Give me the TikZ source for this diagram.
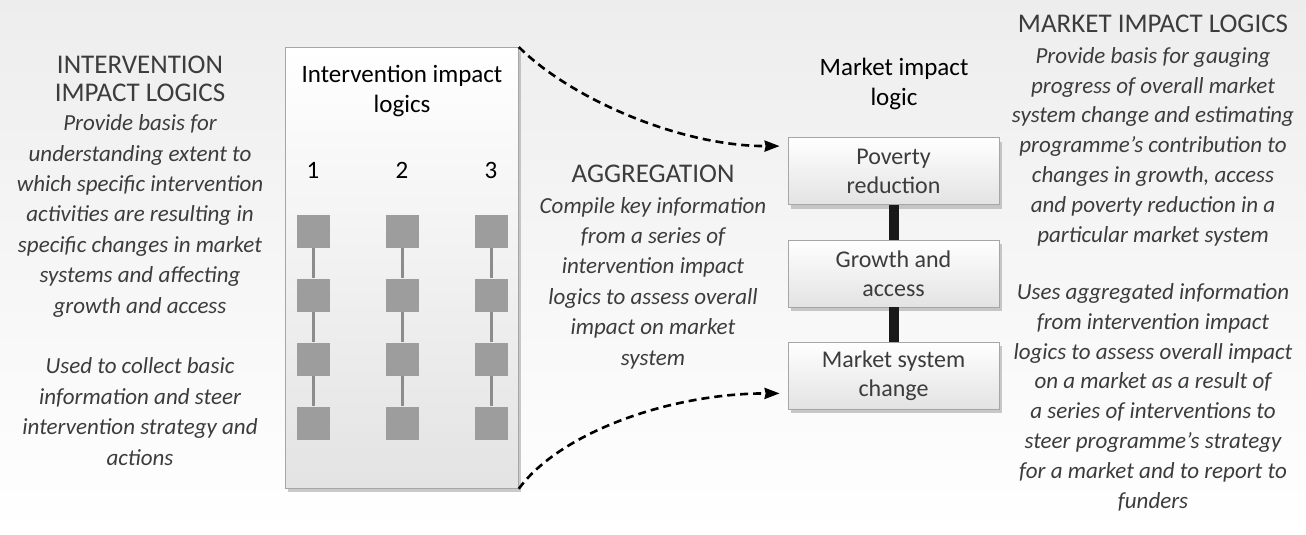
\documentclass[tikz,border=0pt]{standalone}
\usepackage{fontspec}
\setmainfont{Carlito}
\definecolor{sq}{HTML}{9D9D9D}
\definecolor{txt}{HTML}{3C3C3C}
\usetikzlibrary{arrows.meta, shadows, positioning}
\tikzset{link/.style = {line width=2.6pt, dash pattern=on 8pt off 5pt, shorten >=8pt, -{Stealth[length=15pt, width=11pt, inset=1pt]}}}
\tikzset{card/.style = {draw=black!35, line width=0.8pt, inner sep=0pt, align=center, text=txt, top color=white, bottom color=black!11, font=\fontsize{24}{29}\selectfont, drop shadow={shadow xshift=3pt, shadow yshift=-4pt, fill=black!45, opacity=0.45}}}
\tikzset{sq/.style = {fill=sq, minimum size=33pt, inner sep=0pt}}
\tikzset{stem/.style = {draw=black!45, line width=3pt}}
\tikzset{bar/.style = {draw=black!90, line width=10pt}}
\tikzset{head/.style = {align=center, anchor=base, text=txt, font=\fontsize{27}{28}\selectfont}}
\tikzset{desc/.style = {align=center, anchor=base, text=txt, font=\fontsize{23}{30.4}\selectfont\itshape}}
\tikzset{title/.style = {align=center, anchor=base, text=black, font=\fontsize{25}{30}\selectfont}}

\begin{document}
\begin{tikzpicture}[x=1pt, y=-1pt]
	\useasboundingbox (0,0) rectangle (1306,535);
	\fill[top color=black!7, bottom color=white] (0,0) rectangle (1306,535);
	% intervention impact logics
	\node[card, minimum width=233pt, minimum height=441pt, anchor=north west] (logics) at (285,47) {};
	\node[title] (logtitle) at (402,112) {Intervention impact\\logics};
	\foreach \c/\x in {1/313, 2/402, 3/491} {
		\node[title] (n\c) at (\x,178) {\c};
		\foreach \r in {1,...,4} { \node[sq] (s\c\r) at (\x,167+64*\r) {}; }
		\foreach \r/\s in {1/2, 2/3, 3/4} { \draw[stem] (s\c\r) -- (s\c\s); }
	}
	% market impact logic
	\node[title] (mktitle) at (894,105) {Market impact\\logic};
	\node[card, minimum width=211pt, minimum height=67pt] (poverty) at (893.5,171) {Poverty\\reduction};
	\node[card, minimum width=211pt, minimum height=67pt] (growth) at (893.5,273.5) {Growth and\\access};
	\node[card, minimum width=211pt, minimum height=67pt] (change) at (893.5,375.5) {Market system\\change};
	\draw[bar] (poverty) -- (growth);
	\draw[bar] (growth) -- (change);
	% aggregation
	\draw[link] (logics.north east) .. controls +(50,50) and +(-110,0) .. ([yshift=-9pt]poverty.north west);
	\draw[link] (logics.south east) .. controls +(40,-55) and +(-120,0) .. ([yshift=16pt]change.south west);
	% side texts (base = last line)
	\node[head] (ilhead) at (140,101) {INTERVENTION\\IMPACT LOGICS};
	\node[desc] (ildesc) at (140,313) {Provide basis for\\understanding extent to\\which specific intervention\\activities are resulting in\\specific changes in market\\systems and affecting\\growth and access};
	\node[desc] (iluse) at (140,465) {Used to collect basic\\information and steer\\intervention strategy and\\actions};
	\node[head] (aghead) at (653,182) {AGGREGATION};
	\node[desc] (agdesc) at (653,365) {Compile key information\\from a series of\\intervention impact\\logics to assess overall\\impact on market\\system};
	\node[head] (mlhead) at (1153,33) {MARKET IMPACT LOGICS};
	\node[desc, font=\fontsize{23}{29.8}\selectfont\itshape] (mldesc) at (1153,242) {Provide basis for gauging\\progress of overall market\\system change and estimating\\programme’s contribution to\\changes in growth, access\\and poverty reduction in a\\particular market system};
	\node[desc, font=\fontsize{23}{29.8}\selectfont\itshape] (mluse) at (1153,508) {Uses aggregated information\\from intervention impact\\logics to assess overall impact\\on a market as a result of\\a series of interventions to\\steer programme’s strategy\\for a market and to report to\\funders};
\end{tikzpicture}
\end{document}
